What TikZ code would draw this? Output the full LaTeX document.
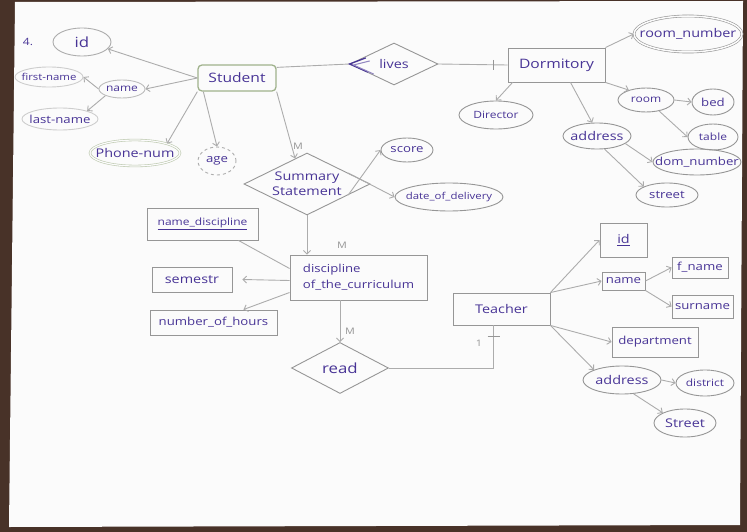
\documentclass[tikz,border=0pt]{standalone}
\usepackage{fontspec}
\setmainfont{Open Sans}[FakeStretch=1.2]
\usetikzlibrary{arrows.meta,shapes.geometric,calc}
\definecolor{ink}{RGB}{72,52,150}
\definecolor{pencil}{RGB}{172,172,172}
\definecolor{edge}{RGB}{150,150,150}
\definecolor{wood}{RGB}{72,50,40}
\definecolor{paper}{RGB}{251,251,251}
\definecolor{greenish}{RGB}{160,178,140}
\tikzset{
 fs/.style={font=\fontsize{#1}{#1}\selectfont},
 txt/.style={text=ink, inner sep=0pt},
 mk/.style={text=edge, inner sep=0pt, font=\fontsize{9}{9}\selectfont},
 ell/.style={ellipse, draw=edge, line width=0.9pt, inner sep=0pt},
 box/.style={rectangle, draw=edge, line width=0.9pt, inner sep=0pt},
 dia/.style={diamond, draw=edge, line width=0.9pt, inner sep=0pt},
 conn/.style={draw=pencil, line width=0.9pt},
 arr/.style={conn, -{Straight Barb[length=3.5pt,width=7pt]}},
}
\begin{document}
\begin{tikzpicture}[x=1pt,y=-1pt]
\useasboundingbox (0,0) rectangle (747,532);
\fill[wood] (0,0) rectangle (747,532);
\fill[paper] (15,2) -- (743,1) -- (740,525) -- (9,527) -- cycle;

% ---------- Student side ----------
\node[txt,fs=10] (four) at (28,42) {4.};
\node[ell,draw=pencil,minimum width=58,minimum height=28,label={[txt,fs=14]center:id}] (id) at (82,42) {};
\node[box,rounded corners=4pt,draw=greenish,line width=1.3pt,minimum width=78,minimum height=26,label={[txt,fs=13]center:Student}] (st) at (237,78) {};
\node[ell,draw=pencil!60,minimum width=68,minimum height=20,label={[txt,fs=9.5]center:first-name}] (fn) at (49,77) {};
\node[ell,draw=pencil!80,minimum width=46,minimum height=18,label={[txt,fs=10]center:name}] (nm) at (122,89) {};
\node[ell,draw=pencil!60,minimum width=76,minimum height=22,label={[txt,fs=11]center:last-name}] (ln) at (60,119) {};
\node[ell,draw=greenish!70,double=paper,double distance=1.2pt,line width=0.6pt,minimum width=90,minimum height=26,label={[txt,fs=12]center:Phone-num}] (ph) at (135,153) {};
\node[ell,dashed,draw=pencil,minimum width=38,minimum height=28,label={[txt,fs=11]center:age}] (age) at (217,161) {};

\draw[arr] (st.west) -- (id.-15);
\draw[arr] (st.west) -- (nm.east);
\draw[arr] (nm.west) -- (fn.east);
\draw[arr] (nm.south west) -- (ln.north east);
\draw[arr] (st.south west) -- (ph.north east);
\draw[arr] ([xshift=6pt]st.south west) -- (age.north);

% ---------- Lives / Dormitory ----------
\node[dia,minimum width=88,minimum height=42,label={[txt,fs=12]center:lives}] (lv) at (394,64) {};
\node[box,minimum width=97,minimum height=34,label={[txt,fs=13]center:Dormitory}] (dm) at (556.5,65) {};
\node[ell,double=paper,double distance=1.5pt,line width=0.6pt,minimum width=108,minimum height=36,label={[txt,fs=12]center:room\_number}] (rn) at (688,34) {};
\node[ell,minimum width=74,minimum height=28,label={[txt,fs=10]center:Director}] (dir) at (496,115) {};
\node[ell,minimum width=56,minimum height=24,label={[txt,fs=10]center:room}] (rm) at (646,100) {};
\node[ell,minimum width=42,minimum height=26,label={[txt,fs=11]center:bed}] (bd) at (713,102) {};
\node[ell,minimum width=50,minimum height=26,label={[txt,fs=10]center:table}] (tb) at (713,137) {};
\node[ell,minimum width=68,minimum height=26,label={[txt,fs=12]center:address}] (da) at (597,136) {};
\node[ell,minimum width=88,minimum height=26,label={[txt,fs=11]center:dom\_number}] (dn) at (697,162) {};
\node[ell,minimum width=62,minimum height=24,label={[txt,fs=11]center:street}] (sr) at (667,195) {};

\draw[conn] (st.15) -- (lv.west);
\draw[ink,line width=1.3pt,line cap=round] ([shift={(16,-6)}]lv.west) -- (lv.west) -- ([shift={(18,8)}]lv.west);
\draw[ink!60,line width=1pt,line cap=round] ([shift={(20,-3)}]lv.west) -- ([shift={(4,1)}]lv.west) -- ([shift={(24,10)}]lv.west);
\draw[conn] (lv.east) -- (dm.west);
\draw[draw=edge,line width=1.1pt] ([shift={(-14,-5)}]dm.west) -- ([shift={(-14,5)}]dm.west);
\draw[arr] (dm.north east) -- (rn.west);
\draw[arr] ([xshift=5pt]dm.south west) -- (dir.north);
\draw[arr] ([xshift=14pt]dm.south) -- (da.110);
\draw[arr] (dm.south east) -- (rm.150);
\draw[arr] (rm.east) -- (bd.west);
\draw[arr] (rm.-40) -- (tb.west);
\draw[arr] (da.-15) -- (dn.west);
\draw[arr] (da.-60) -- (sr.160);

% ---------- Summary statement ----------
\node[dia,minimum width=126,minimum height=62,label={[txt,fs=12,align=center]center:Summary\\[3pt]Statement}] (ss) at (307,184) {};
\node[ell,minimum width=52,minimum height=24,label={[txt,fs=11]center:score}] (sc) at (407,150) {};
\node[ell,minimum width=108,minimum height=28,label={[txt,fs=9.5]center:date\_of\_delivery}] (dd) at (449,197) {};
\node[mk] (m1) at (298,146) {M};
\draw[arr] (st.south east) -- (ss.115);
\draw[arr] (ss.-15) -- (sc.west);
\draw[arr] (ss.15) -- (dd.west);

% ---------- Discipline ----------
\node[box,minimum width=111,minimum height=32,label={[txt,fs=10]center:\underline{name\_discipline}}] (nd) at (202.5,224) {};
\node[box,minimum width=80,minimum height=25,label={[txt,fs=12]center:semestr}] (sem) at (192,279.5) {};
\node[box,minimum width=127,minimum height=25,label={[txt,fs=11]center:number\_of\_hours}] (nh) at (213.5,322.5) {};
\node[box,minimum width=137,minimum height=45,label={[txt,fs=11,align=left]center:discipline\\[4pt]of\_the\_curriculum}] (dc) at (358.5,277.5) {};
\node[dia,minimum width=97,minimum height=51,label={[txt,fs=14]center:read}] (rd) at (340,368) {};
\node[mk] (m2) at (342,245) {M};
\node[mk] (m3) at (350,331) {M};
\draw[arr] (ss.south) -- (ss.south |- dc.north);
\draw[conn] ([yshift=9pt]dc.west) -- ([xshift=-20pt]nd.south east);
\draw[arr] ([yshift=-3pt]dc.west) -- ([xshift=10pt]sem.east);
\draw[arr] ([yshift=-15pt]dc.west) -- ([xshift=-34pt]nh.north east);
\draw[arr] (dc.south -| rd.north) -- (rd.north);

% ---------- Teacher ----------
\node[box,minimum width=97,minimum height=32,label={[txt,fs=12]center:Teacher}] (tc) at (501.5,309) {};
\node[box,minimum width=47,minimum height=34,label={[txt,fs=12]center:\underline{id}}] (tid) at (623.5,240) {};
\node[box,minimum width=43,minimum height=18,label={[txt,fs=11]center:name}] (tnm) at (623.5,281) {};
\node[box,minimum width=56,minimum height=21,label={[txt,fs=11]center:f\_name}] (fn2) at (700,267.5) {};
\node[box,minimum width=61,minimum height=23,label={[txt,fs=11]center:surname}] (sn) at (702.5,306.5) {};
\node[box,minimum width=86,minimum height=30,label={[txt,fs=11]center:department}] (dep) at (655,342) {};
\node[ell,minimum width=78,minimum height=28,label={[txt,fs=12]center:address}] (tad) at (622,380) {};
\node[ell,minimum width=58,minimum height=26,label={[txt,fs=10]center:district}] (dis) at (705,383) {};
\node[ell,minimum width=62,minimum height=28,label={[txt,fs=12]center:Street}] (str2) at (685,423) {};
\node[mk] (one) at (479,343) {1};

\draw[conn] (rd.east) -| ([xshift=-8pt]tc.south);
\draw[draw=edge,line width=1.1pt] ([shift={(-14,11)}]tc.south) -- ([shift={(-2,11)}]tc.south);
\draw[arr] (tc.north east) -- (tid.west);
\draw[arr] (tc.north east) -- (tnm.west);
\draw[arr] (tnm.east) -- (fn2.west);
\draw[arr] (tnm.south east) -- (sn.west);
\draw[arr] (tc.south east) -- (dep.west);
\draw[arr] (tc.south east) -- (tad.north west);
\draw[arr] (tad.east) -- (dis.west);
\draw[arr] (tad.-50) -- (str2.north west);
\end{tikzpicture}
\end{document}
